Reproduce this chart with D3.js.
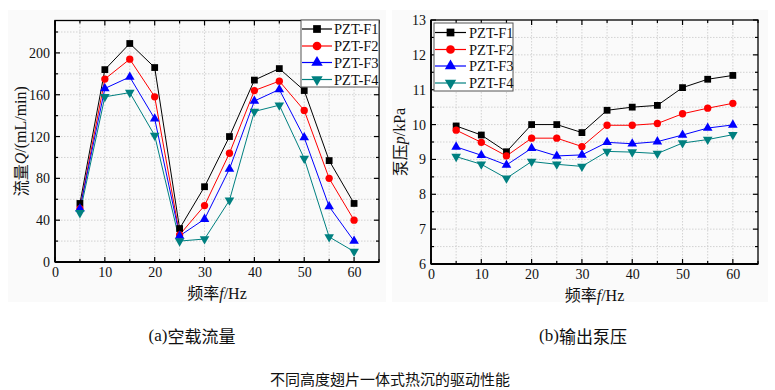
<!DOCTYPE html>
<html><head><meta charset="utf-8">
<script src="https://cdn.jsdelivr.net/npm/d3@7/dist/d3.min.js"></script>
<style>body{margin:0;background:#fff}svg{display:block}</style>
</head><body>
<svg id="c" width="775" height="390"></svg>
<script>
const freq = [5,10,15,20,25,30,35,40,45,50,55,60];
const seriesNames = ["PZT-F1","PZT-F2","PZT-F3","PZT-F4"];
const colors = ["#000000","#ff0000","#0000ff","#008080"];
const markers = ["square","circle","triangle","down"];
// (a) flow Q (mL/min)
const flowF1 = [56,184,209,186,32,72,120,174,185,164,97,56];
const flowF2 = [51,175,194,158,26,54,104,164,173,145,80,40];
const flowF3 = [51,166,177,137,25,41,89,154,165,119,53,20];
const flowF4 = [47,158,162,121,20,22,59,144,150,99,24,10];
// (b) pump pressure p (kPa)
const presF1 = [9.96,9.70,9.22,10.0,10.0,9.77,10.41,10.50,10.55,11.06,11.30,11.41];
const presF2 = [9.84,9.49,9.10,9.61,9.61,9.37,9.98,9.98,10.03,10.31,10.47,10.61];
const presF3 = [9.36,9.12,8.84,9.32,9.10,9.13,9.49,9.45,9.51,9.70,9.90,9.99];
const presF4 = [9.08,8.86,8.46,8.94,8.86,8.80,9.23,9.21,9.17,9.47,9.57,9.71];
const xTicks = [0,10,20,30,40,50,60];
const flowTicks = [0,40,80,120,160,200];
const presTicks = [6,7,8,9,10,11,12,13];

const svg = d3.select("#c");
const serif = "'Liberation Serif','Times New Roman',serif";
const cjk = "'Noto Sans CJK SC','Liberation Serif',serif";

// light background panels
svg.append("rect").attr("x",8).attr("y",10).attr("width",378).attr("height",292).attr("fill","#fafafa");
svg.append("rect").attr("x",392).attr("y",10).attr("width",376).attr("height",292).attr("fill","#fafafa");

function symbolFor(m){
  return {square:d3.symbolSquare,circle:d3.symbolCircle,triangle:d3.symbolTriangle,down:d3.symbolTriangle}[m];
}

function panel(opt){
  const {x0,x1,y0,y1,yDomain,yTicks,yMinorStep,data,yTitle,legend} = opt;
  const g = svg.append("g");
  const x = d3.scaleLinear().domain([0,65]).range([x0,x1]);
  const y = d3.scaleLinear().domain(yDomain).range([y1,y0]);
  const xGrid = d3.range(0,65.01,5);
  const yGrid = d3.range(yDomain[0],yDomain[1]+1e-9,yMinorStep);
  // grid
  g.selectAll(".gx").data(xGrid.filter(v=>v>0&&v<65)).join("line")
    .attr("x1",d=>x(d)).attr("x2",d=>x(d)).attr("y1",y0).attr("y2",y1)
    .attr("stroke","#c8c8c8").attr("stroke-width",0.8).attr("stroke-dasharray","1.5,1.5");
  g.selectAll(".gy").data(yGrid.filter(v=>v>yDomain[0]+1e-9&&v<yDomain[1]-1e-9)).join("line")
    .attr("x1",x0).attr("x2",x1).attr("y1",d=>y(d)).attr("y2",d=>y(d))
    .attr("stroke","#c8c8c8").attr("stroke-width",0.8).attr("stroke-dasharray","1.5,1.5");
  // axes with inward ticks
  const isMajX = v => v%10===0;
  const isMajY = v => yTicks.some(t=>Math.abs(t-v)<1e-9);
  const bottom = d3.axisBottom(x).tickValues(xGrid).tickSize(0).tickFormat(d=>isMajX(d)?d:"");
  const gb = g.append("g").attr("transform",`translate(0,${y1})`).call(bottom);
  gb.select(".domain").remove();
  gb.selectAll("text").attr("dy","0.75em").attr("y",4).attr("font-family",serif).attr("font-size",14).attr("fill","#111");
  const left = d3.axisLeft(y).tickValues(yGrid).tickSize(0).tickFormat(d=>isMajY(d)?d:"");
  const gl = g.append("g").attr("transform",`translate(${x0},0)`).call(left);
  gl.select(".domain").remove();
  gl.selectAll("text").attr("x",-5).attr("font-family",serif).attr("font-size",14).attr("fill","#111");
  // tick marks on all four sides
  xGrid.forEach(v=>{
    const L = isMajX(v)?5:3;
    g.append("line").attr("x1",x(v)).attr("x2",x(v)).attr("y1",y1).attr("y2",y1-L).attr("stroke","#000").attr("stroke-width",1.2);
    g.append("line").attr("x1",x(v)).attr("x2",x(v)).attr("y1",y0).attr("y2",y0+L).attr("stroke","#000").attr("stroke-width",1.2);
  });
  yGrid.forEach(v=>{
    const L = isMajY(v)?5:3;
    g.append("line").attr("x1",x0).attr("x2",x0+L).attr("y1",y(v)).attr("y2",y(v)).attr("stroke","#000").attr("stroke-width",1.2);
    g.append("line").attr("x1",x1).attr("x2",x1-L).attr("y1",y(v)).attr("y2",y(v)).attr("stroke","#000").attr("stroke-width",1.2);
  });
  // frame
  g.append("rect").attr("x",x0).attr("y",y0).attr("width",x1-x0).attr("height",y1-y0)
    .attr("fill","none").attr("stroke","#000").attr("stroke-width",1.3);
  g.append("line").attr("x1",x0).attr("x2",x1).attr("y1",y1).attr("y2",y1).attr("stroke","#000").attr("stroke-width",1.8);
  g.append("line").attr("x1",x0).attr("x2",x0).attr("y1",y0).attr("y2",y1).attr("stroke","#000").attr("stroke-width",1.8);
  // series
  const line = d3.line().x((d,i)=>x(freq[i])).y(d=>y(d));
  data.forEach((vals,k)=>{
    g.append("path").attr("d",line(vals)).attr("fill","none").attr("stroke",colors[k]).attr("stroke-width",1);
  });
  data.forEach((vals,k)=>{
    const sym = d3.symbol().type(symbolFor(markers[k])).size(markers[k]==="circle"?42:(markers[k]==="square"?46:40));
    g.selectAll(null).data(vals).join("path")
      .attr("d",sym)
      .attr("transform",(d,i)=>`translate(${x(freq[i])},${y(d)})${markers[k]==="down"?" rotate(180)":""}`)
      .attr("fill",colors[k]);
  });
  // y title
  const yt = g.append("text").attr("transform",`translate(${opt.yTitleX},${(y0+y1)/2}) rotate(-90)`)
    .attr("text-anchor","middle").attr("dominant-baseline","central").attr("font-size",16).attr("fill","#111");
  yTitle.forEach(p=>yt.append("tspan").attr("font-family",p.f==="c"?cjk:serif).attr("font-style",p.i?"italic":"normal").text(p.t));
  // x title
  const xt = g.append("text").attr("x",(x0+x1)/2).attr("y",y1+37).attr("text-anchor","middle").attr("font-size",16).attr("fill","#111");
  [{t:"频率",f:"c"},{t:"f",i:true},{t:"/Hz"}].forEach(p=>xt.append("tspan").attr("font-family",p.f==="c"?cjk:serif).attr("font-style",p.i?"italic":"normal").text(p.t));
  // legend
  const {lx0,lx1,ly0,ly1,rows,lineX0,lineX1,textX} = legend;
  g.append("rect").attr("x",lx0).attr("y",ly0).attr("width",lx1-lx0).attr("height",ly1-ly0)
    .attr("fill","#fff").attr("stroke","#555").attr("stroke-width",1);
  seriesNames.forEach((nm,k)=>{
    const ry = rows[k];
    g.append("line").attr("x1",lineX0).attr("x2",lineX1).attr("y1",ry).attr("y2",ry).attr("stroke",colors[k]).attr("stroke-width",1.2);
    const sym = d3.symbol().type(symbolFor(markers[k])).size(markers[k]==="circle"?60:(markers[k]==="square"?60:56));
    g.append("path").attr("d",sym).attr("transform",`translate(${(lineX0+lineX1)/2},${ry})${markers[k]==="down"?" rotate(180)":""}`).attr("fill",colors[k]);
    g.append("text").attr("x",textX).attr("y",ry).attr("dominant-baseline","central").attr("font-family",serif).attr("font-size",14.5).attr("fill","#111").text(nm);
  });
}

panel({x0:55,x1:379,y0:20.5,y1:262,yDomain:[0,231],yTicks:flowTicks,yMinorStep:20,
  data:[flowF1,flowF2,flowF3,flowF4],
  yTitle:[{t:"流量",f:"c"},{t:"Q",i:true},{t:"/(mL/min)"}], yTitleX:20,
  legend:{lx0:301,lx1:379,ly0:20,ly1:87,rows:[29,46,62.5,79.5],lineX0:302,lineX1:332,textX:334}});

panel({x0:431,x1:758,y0:20,y1:264,yDomain:[6,13],yTicks:presTicks,yMinorStep:0.5,
  data:[presF1,presF2,presF3,presF4],
  yTitle:[{t:"泵压",f:"c"},{t:"p",i:true},{t:"/kPa"}], yTitleX:399,
  legend:{lx0:434,lx1:513,ly0:23,ly1:91,rows:[32.5,49.5,66,83],lineX0:435,lineX1:466,textX:469}});

// captions
function cap(x,yy,parts,fs){
  const t = svg.append("text").attr("x",x).attr("y",yy).attr("text-anchor","middle").attr("dominant-baseline","central").attr("font-size",fs).attr("fill","#111");
  parts.forEach(p=>t.append("tspan").attr("font-family",p.f==="c"?cjk:serif).text(p.t));
}
cap(192,335,[{t:"(a)"},{t:"空载流量",f:"c"}],17);
cap(583,335,[{t:"(b)"},{t:"输出泵压",f:"c"}],17);
cap(390,378,[{t:"不同高度翅片一体式热沉的驱动性能",f:"c"}],15);
</script>
</body></html>
